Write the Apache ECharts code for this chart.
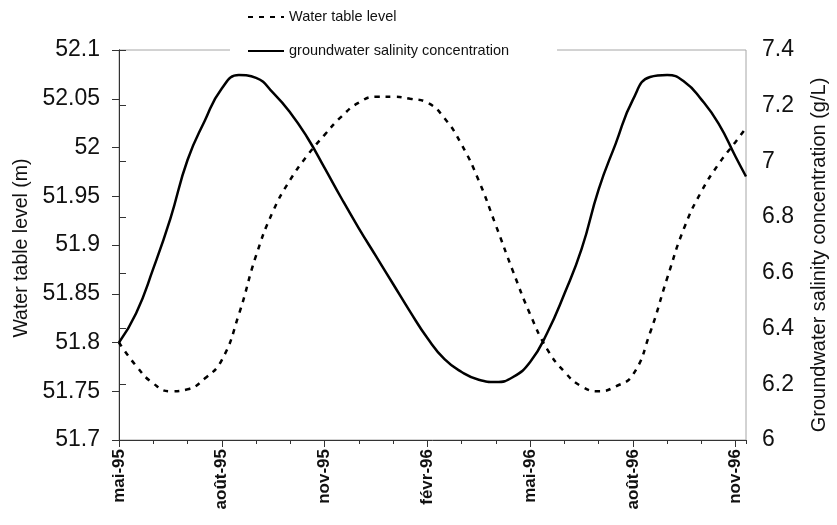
<!DOCTYPE html>
<html>
<head>
<meta charset="utf-8">
<title>Water table level and groundwater salinity</title>
<script src="https://cdn.jsdelivr.net/npm/echarts@6/dist/echarts.min.js"></script>
<style>
  html, body { margin: 0; padding: 0; background: #fff; }
  #chart { width: 837px; height: 525px; }
</style>
</head>
<body>
<div id="chart"></div>
<script>
  // months counted from mai-95
  var months = [0, 0.5, 1, 1.5, 2, 2.5, 3, 3.5, 4, 4.5, 5, 5.5, 6, 6.5, 7, 7.5, 8, 8.5, 9, 9.5,
    10, 10.5, 11, 11.5, 12, 12.5, 13, 13.5, 14, 14.5, 15, 15.5, 16, 16.5, 17, 17.5, 18, 18.3]
  // water table level (m), left axis
  var waterTable = [51.800, 51.776, 51.758, 51.750, 51.752, 51.763, 51.782, 51.829, 51.889, 51.935,
    51.967, 51.992, 52.013, 52.032, 52.046, 52.052, 52.052, 52.050, 52.046, 52.030,
    52.003, 51.966, 51.920, 51.873, 51.829, 51.793, 51.770, 51.755, 51.750, 51.755,
    51.767, 51.810, 51.866, 51.918, 51.955, 51.983, 52.006, 52.020]
  // groundwater salinity concentration (g/L), right axis
  var salinity = [6.350, 6.455, 6.615, 6.795, 7.005, 7.145, 7.262, 7.310, 7.300, 7.246,
    7.175, 7.085, 6.977, 6.866, 6.760, 6.660, 6.560, 6.460, 6.366, 6.290,
    6.244, 6.216, 6.208, 6.226, 6.280, 6.385, 6.525, 6.685, 6.900, 7.065,
    7.222, 7.303, 7.310, 7.286, 7.222, 7.136, 7.016, 6.946]
  var xLabels = ['mai-95', 'août-95', 'nov-95', 'févr-96', 'mai-96', 'août-96', 'nov-96']

  var font = "'Liberation Sans', Arial, sans-serif"

  function pairs (ys) {
    return months.map(function (m, i) { return [m, ys[i]] })
  }

  var chart = echarts.init(document.getElementById('chart'))
  chart.setOption({
    animation: false,
    textStyle: { fontFamily: font },
    grid: {
      left: 119,
      right: 85,
      top: 50,
      bottom: 85,
      show: true,
      borderColor: '#a6a6a6',
      borderWidth: 1
    },
    legend: {
      data: ['Water table level', 'groundwater salinity concentration'],
      orient: 'vertical',
      left: 230,
      top: 4,
      padding: [5, 48, 5, 17],
      backgroundColor: '#fff',
      itemWidth: 36,
      itemHeight: 16,
      itemGap: 18,
      selectedMode: false,
      itemStyle: { opacity: 0 },
      textStyle: { fontSize: 14.5, color: '#111', fontFamily: font, lineHeight: 16 }
    },
    xAxis: [
      {
        type: 'value',
        position: 'bottom',
        min: 0,
        max: 18.3,
        interval: 3,
        axisLine: { lineStyle: { color: '#333', width: 1 } },
        axisTick: { length: 7, lineStyle: { color: '#333' } },
        splitLine: { show: false },
        axisLabel: {
          rotate: 90,
          margin: 9,
          fontSize: 17,
          fontWeight: 'bold',
          color: '#111',
          fontFamily: font,
          showMaxLabel: false,
          formatter: function (v) {
            var i = Math.round(v / 3)
            return Math.abs(v - i * 3) < 1e-6 ? xLabels[i] : ''
          }
        }
      },
      {
        type: 'value',
        position: 'bottom',
        min: 0,
        max: 18.3,
        interval: 1,
        axisLine: { show: false },
        axisTick: { length: 4, lineStyle: { color: '#333' } },
        axisLabel: { show: false },
        splitLine: { show: false }
      }
    ],
    yAxis: [
      {
        type: 'value',
        position: 'left',
        min: 51.7,
        max: 52.1,
        interval: 0.05,
        name: 'Water table level (m)',
        nameLocation: 'middle',
        nameGap: 87,
        nameTextStyle: { fontSize: 19.5, color: '#111', fontFamily: font, padding: [0, 6, 0, 0] },
        axisLine: { show: true, lineStyle: { color: '#333', width: 1 } },
        axisTick: { show: true, length: 7, lineStyle: { color: '#333' } },
        splitLine: { show: false },
        axisLabel: { fontSize: 23, margin: 19, color: '#111', fontFamily: font }
      },
      {
        type: 'value',
        position: 'right',
        min: 6,
        max: 7.4,
        interval: 0.2,
        name: 'Groundwater salinity concentration (g/L)',
        nameLocation: 'middle',
        nameGap: 63,
        nameTextStyle: { fontSize: 20, color: '#111', fontFamily: font, padding: [0, 20, 0, 0] },
        axisLine: { show: true, lineStyle: { color: '#333', width: 1 } },
        axisTick: { show: true, length: 7, lineStyle: { color: '#333' } },
        splitLine: { show: false },
        axisLabel: { fontSize: 23, margin: 16, color: '#111', fontFamily: font }
      }
    ],
    series: [
      {
        name: 'Water table level',
        type: 'line',
        xAxisIndex: 0,
        yAxisIndex: 0,
        smooth: true,
        symbol: 'none',
        lineStyle: { color: '#000', width: 2.5, type: [5, 6] },
        itemStyle: { color: '#000' },
        data: pairs(waterTable)
      },
      {
        name: 'groundwater salinity concentration',
        type: 'line',
        xAxisIndex: 0,
        yAxisIndex: 1,
        smooth: true,
        symbol: 'none',
        lineStyle: { color: '#000', width: 2.5 },
        itemStyle: { color: '#000' },
        data: pairs(salinity)
      }
    ]
  })
</script>
</body>
</html>
